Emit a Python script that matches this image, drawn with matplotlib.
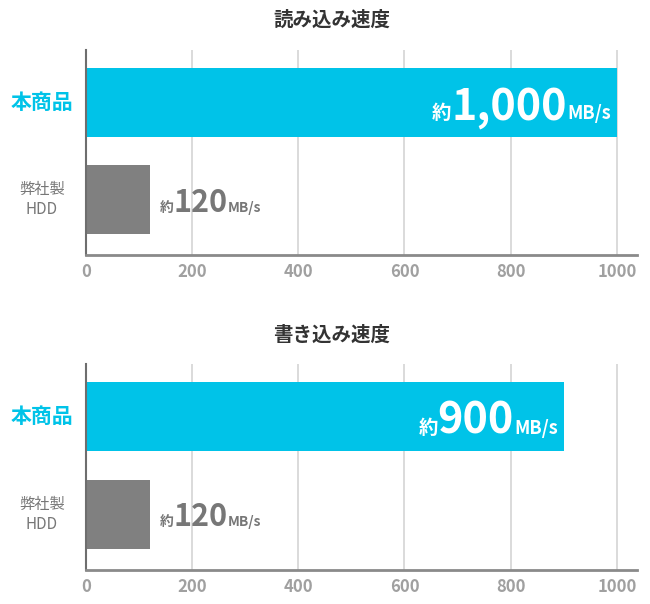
import matplotlib
matplotlib.use("Agg")
import matplotlib.pyplot as plt

plt.rcParams['font.family'] = ['Noto Sans CJK JP', 'DejaVu Sans']

# data
titles = ["読み込み速度", "書き込み速度"]
products = ["本商品", "弊社製\nHDD"]
read_speed = [1000, 120]
write_speed = [900, 120]
value_text_read = ["1,000", "120"]
value_text_write = ["900", "120"]
xticks = [0, 200, 400, 600, 800, 1000]

cyan = "#00c3e8"
gray_bar = "#808080"
label_gray = "#777777"
tick_gray = "#a0a0a0"

fig = plt.figure(figsize=(6.5, 6.04), dpi=100)
axes_pos = [[86 / 650, 1 - 255 / 604, 551 / 650, 205 / 604],
            [86 / 650, 1 - 570 / 604, 551 / 650, 206 / 604]]
title_y = [1 - 20 / 604, 1 - 335 / 604]


def value_label(ax, x, y, num, inside):
    # build "約" + number + "MB/s" from three pieces, measured in pixels
    if inside:
        parts = [("約", 14), (num, 31), ("MB/s", 13)]
        color = "white"
    else:
        parts = [("約", 10), (num, 22), ("MB/s", 10)]
        color = label_gray
    base = -17 if inside else -12
    r = fig.canvas.get_renderer()
    texts = []
    for s, size in parts:
        t = ax.annotate(s, (x, y), xytext=(0, base), textcoords="offset pixels",
                        fontsize=size, fontweight="bold", color=color,
                        va="baseline", ha="left")
        texts.append(t)
    widths = [t.get_window_extent(r).width for t in texts]
    start = -6 - sum(widths) if inside else 10
    for t, w in zip(texts, widths):
        t.xyann = (start, base)
        start += w


for i, (speeds, vtexts) in enumerate([(read_speed, value_text_read),
                                      (write_speed, value_text_write)]):
    ax = fig.add_axes(axes_pos[i])
    ypos = list(range(len(products)))
    ax.barh(ypos, speeds, height=0.71, color=[cyan, gray_bar], zorder=2)
    ax.set_xlim(0, 1038)
    ax.set_ylim(1.57, -0.54)
    ax.set_xticks(xticks)
    ax.set_xticklabels([str(v) for v in xticks], fontsize=12, fontweight="bold",
                       color=tick_gray)
    ax.tick_params(axis="x", length=0, pad=6)
    ax.set_yticks([])
    ax.grid(axis="x", color="#d4d4d4", linewidth=1.2, zorder=0)
    for s in ["top", "right"]:
        ax.spines[s].set_visible(False)
    ax.spines["left"].set_color("#6e6e6e")
    ax.spines["left"].set_linewidth(1.5)
    ax.spines["bottom"].set_color("#8a8a8a")
    ax.spines["bottom"].set_linewidth(2)

    tr = ax.get_yaxis_transform()
    ax.text(-0.08, 0, products[0], transform=tr, ha="center", va="center",
            fontsize=15, fontweight="bold", color=cyan)
    ax.text(-0.08, 1, products[1], transform=tr, ha="center", va="center",
            fontsize=11, color=label_gray, linespacing=1.25)

    fig.text(0.51, title_y[i], titles[i], ha="center", va="center",
             fontsize=14, fontweight="bold", color="#333333")

    value_label(ax, speeds[0], 0, vtexts[0], True)
    value_label(ax, speeds[1], 1, vtexts[1], False)

fig.savefig("out.png", dpi=100)
